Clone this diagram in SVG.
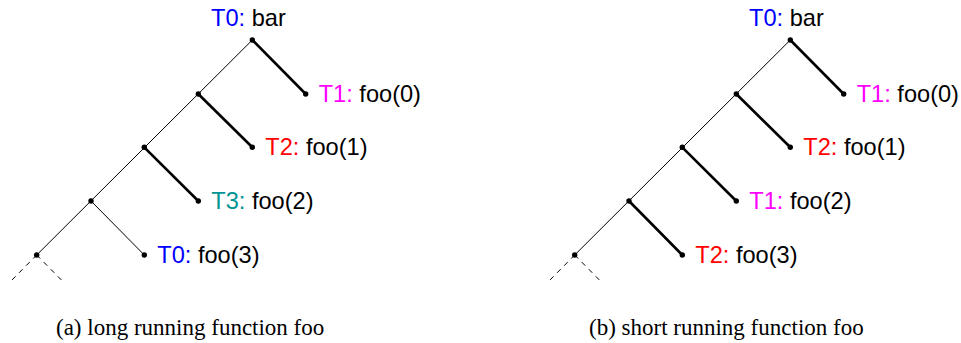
<svg xmlns="http://www.w3.org/2000/svg" width="961" height="343" viewBox="0 0 961 343">
<style>
.thin{stroke:#000;stroke-width:1;fill:none}
.thick{stroke:#000;stroke-width:2.6;fill:none}
.dash{stroke:#000;stroke-width:1;fill:none;stroke-dasharray:5 5}
.dot{fill:#000}
.lbl{font-family:"Liberation Sans",Arial,sans-serif;font-size:23.6px;fill:#000}
.cap{font-family:"Liberation Serif","Times New Roman",serif;font-size:23px;fill:#000}
.blue{fill:#0000ff}.mag{fill:#ff00ff}.red{fill:#ff0000}.teal{fill:#009494}
</style>
<rect width="961" height="343" fill="#fff"/>
<g id="connectors">
<g id="tree-a-edges">
<line class="thin" x1="252.3" y1="40" x2="36.7" y2="255"/>
<line class="thick" x1="252.3" y1="40" x2="305.7" y2="94"/>
<line class="thick" x1="198.3" y1="94" x2="252.3" y2="147.3"/>
<line class="thick" x1="144.3" y1="147.3" x2="198.3" y2="201"/>
<line class="thin" x1="91" y1="201" x2="144.3" y2="255"/>
<line class="dash" x1="36.7" y1="255" x2="10" y2="282"/>
<line class="dash" x1="36.7" y1="255" x2="63.4" y2="282"/>
</g>
<g id="tree-b-edges">
<line class="thin" x1="790.3" y1="40" x2="574.7" y2="255"/>
<line class="thick" x1="790.3" y1="40" x2="843.7" y2="94"/>
<line class="thick" x1="736.3" y1="94" x2="790.3" y2="147.3"/>
<line class="thick" x1="682.3" y1="147.3" x2="736.3" y2="201"/>
<line class="thick" x1="629" y1="201" x2="682.3" y2="255"/>
<line class="dash" x1="574.7" y1="255" x2="548" y2="282"/>
<line class="dash" x1="574.7" y1="255" x2="601.4" y2="282"/>
</g>
</g>
<g id="a-root"><circle class="dot" cx="252.3" cy="40" r="2.7"/><text class="lbl" x="211" y="26"><tspan class="blue">T0:</tspan> bar</text></g>
<g id="a-n1"><circle class="dot" cx="198.3" cy="94" r="2.7"/></g>
<g id="a-n2"><circle class="dot" cx="144.3" cy="147.3" r="2.7"/></g>
<g id="a-n3"><circle class="dot" cx="91" cy="201" r="2.7"/></g>
<g id="a-n4"><circle class="dot" cx="36.7" cy="255" r="2.7"/></g>
<g id="a-foo0"><circle class="dot" cx="305.7" cy="94" r="2.7"/><text class="lbl" x="318.7" y="102"><tspan class="mag">T1:</tspan> foo(0)</text></g>
<g id="a-foo1"><circle class="dot" cx="252.3" cy="147.3" r="2.7"/><text class="lbl" x="265.3" y="155.3"><tspan class="red">T2:</tspan> foo(1)</text></g>
<g id="a-foo2"><circle class="dot" cx="198.3" cy="201" r="2.7"/><text class="lbl" x="211.3" y="209"><tspan class="teal">T3:</tspan> foo(2)</text></g>
<g id="a-foo3"><circle class="dot" cx="144.3" cy="255" r="2.7"/><text class="lbl" x="157.3" y="263"><tspan class="blue">T0:</tspan> foo(3)</text></g>
<g id="b-root"><circle class="dot" cx="790.3" cy="40" r="2.7"/><text class="lbl" x="749" y="26"><tspan class="blue">T0:</tspan> bar</text></g>
<g id="b-n1"><circle class="dot" cx="736.3" cy="94" r="2.7"/></g>
<g id="b-n2"><circle class="dot" cx="682.3" cy="147.3" r="2.7"/></g>
<g id="b-n3"><circle class="dot" cx="629" cy="201" r="2.7"/></g>
<g id="b-n4"><circle class="dot" cx="574.7" cy="255" r="2.7"/></g>
<g id="b-foo0"><circle class="dot" cx="843.7" cy="94" r="2.7"/><text class="lbl" x="856.7" y="102"><tspan class="mag">T1:</tspan> foo(0)</text></g>
<g id="b-foo1"><circle class="dot" cx="790.3" cy="147.3" r="2.7"/><text class="lbl" x="803.3" y="155.3"><tspan class="red">T2:</tspan> foo(1)</text></g>
<g id="b-foo2"><circle class="dot" cx="736.3" cy="201" r="2.7"/><text class="lbl" x="749.3" y="209"><tspan class="mag">T1:</tspan> foo(2)</text></g>
<g id="b-foo3"><circle class="dot" cx="682.3" cy="255" r="2.7"/><text class="lbl" x="695.3" y="263"><tspan class="red">T2:</tspan> foo(3)</text></g>
<g id="captions">
<text class="cap" x="56" y="335">(a) long running function foo</text>
<text class="cap" x="589" y="335">(b) short running function foo</text>
</g>
</svg>
